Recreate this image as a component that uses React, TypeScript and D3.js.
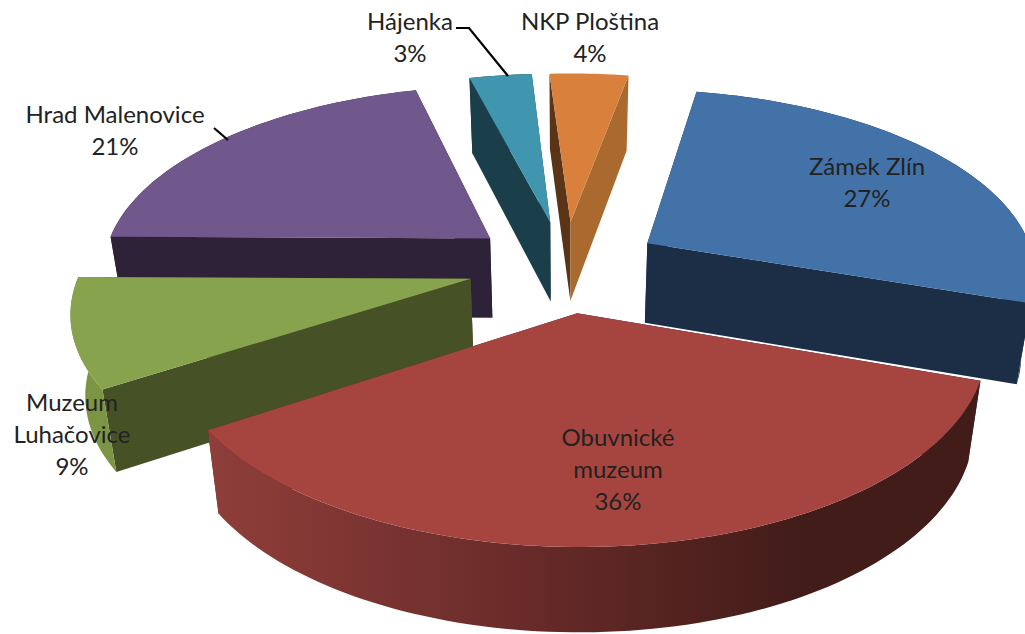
import React from "react";
import * as d3 from "d3";

const categories = ["Zámek Zlín", "Obuvnické muzeum", "Muzeum Luhačovice", "Hrad Malenovice", "Hájenka", "NKP Ploština"];
const shares = [27.4, 35.6, 9.3, 20.8, 3.05, 3.85];
const topColors = ["#4272a8", "#a64540", "#88a34e", "#70578c", "#3f96ae", "#d9813c"];
const startWallColors = ["#1b2e45", "#1b2e45", "#465225", "#2e2238", "#1a3e4a", "#5a3417"];
const endWallColors = ["#1b2e45", "#41201c", "#465225", "#2e2238", "#1a3e4a", "#aa692e"];
const outerColors = ["#1b2e45", "url(#redWall)", "#7b9545", "#2e2238", "#1a3e4a", "none"];
const drawOrder = [5, 4, 3, 0, 2, 1];
const labelLines = [
  ["Zámek Zlín"],
  ["Obuvnické", "muzeum"],
  ["Muzeum", "Luhačovice"],
  ["Hrad Malenovice"],
  ["Hájenka"],
  ["NKP Ploština"],
];
const labelCenters: [number, number][] = [[867, 175], [618, 446], [72, 411], [115, 123], [410, 30], [590, 30]];

const W = 1025, H = 634;
const cx = 565, cy = 266, A = 389, B = 183, k = 0.15, explode = 0.25, depth = 80, shrink = 0.97;
const rotationDeg = 10.3;

type P = [number, number];
const project = (u: number, v: number, bottom = false): P => {
  const w = 1 - k * v;
  const x = (A * u) / w;
  const y = (B * v) / w;
  return bottom ? [cx + x * shrink, cy + y + depth / (1 - 0.05 * v)] : [cx + x, cy + y];
};
const line = d3.line<P>();

const arcs = d3.pie<number>().sort(null).value((d) => d)
  .startAngle((rotationDeg * Math.PI) / 180).endAngle(((rotationDeg + 360) * Math.PI) / 180)(shares);

const geometry = arcs.map((a) => {
  const mid = (a.startAngle + a.endAngle) / 2;
  const ox = explode * Math.sin(mid), oy = -explode * Math.cos(mid);
  const n = Math.max(8, Math.round((a.endAngle - a.startAngle) * 40));
  const angles = d3.range(n + 1).map((i) => a.startAngle + ((a.endAngle - a.startAngle) * i) / n);
  const uv = angles.map((t) => [ox + Math.sin(t), oy - Math.cos(t)] as P);
  const topArc = uv.map(([u, v]) => project(u, v));
  const botArc = uv.map(([u, v]) => project(u, v, true));
  const apexT = project(ox, oy), apexB = project(ox, oy, true);
  const close = (pts: P[]) => (line(pts) ?? "") + "Z";
  return {
    top: close([apexT, ...topArc]),
    startWall: close([apexT, topArc[0], botArc[0], apexB]),
    endWall: close([apexT, topArc[n], botArc[n], apexB]),
    outer: close([...topArc, ...[...botArc].reverse()]),
  };
});

export default function App() {
  return (
    <svg width={W} height={H} viewBox={`0 0 ${W} ${H}`} style={{ position: "absolute", left: 0, top: 0, background: "#fff" }}>
      <defs>
        <linearGradient id="redWall" gradientUnits="userSpaceOnUse" x1="210" x2="800" y1="0" y2="0">
          <stop offset="0" stopColor="#8f3e3a" />
          <stop offset="0.5" stopColor="#6b2c2a" />
          <stop offset="1" stopColor="#421c19" />
        </linearGradient>
      </defs>
      {drawOrder.map((i) => (
        <g key={categories[i]}>
          <path d={geometry[i].startWall} fill={startWallColors[i]} />
          <path d={geometry[i].endWall} fill={endWallColors[i]} />
          <path d={geometry[i].outer} fill={outerColors[i]} />
          <path d={geometry[i].top} fill={topColors[i]} />
        </g>
      ))}
      <path d="M456,28H469L508,76" fill="none" stroke="#000" strokeWidth={2.2} />
      <path d="M214,128L228,140" fill="none" stroke="#000" strokeWidth={2.2} />
      {labelLines.map((lines, i) => (
        <text key={i} textAnchor="middle" fontFamily="Lato, sans-serif" fontSize={24} fill="#222">
          {[...lines, `${Math.round(shares[i])}%`].map((t, j) => (
            <tspan key={j} x={labelCenters[i][0]} y={labelCenters[i][1] + j * 32}>{t}</tspan>
          ))}
        </text>
      ))}
    </svg>
  );
}
